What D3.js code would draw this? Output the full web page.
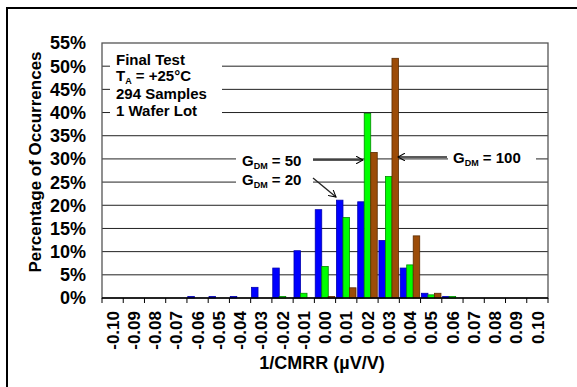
<!DOCTYPE html>
<html><head><meta charset="utf-8">
<script src="https://cdn.jsdelivr.net/npm/d3@7"></script>
<style>body{margin:0;background:#fff}svg{display:block}text{font-family:"Liberation Sans",Arial,sans-serif;font-weight:bold;fill:#000}</style>
</head><body><svg id="c" width="577" height="387"></svg>
<script>
const categories = ["-0.10","-0.09","-0.08","-0.07","-0.06","-0.05","-0.04","-0.03","-0.02","-0.01","0.00","0.01","0.02","0.03","0.04","0.05","0.06","0.07","0.08","0.09","0.10"];
const seriesNames = ["GDM20","GDM50","GDM100"];
const gdm20  = [0,0,0,0,0.34,0.34,0.34,2.3,6.46,10.2,19.05,21.1,20.75,12.4,6.46,1.02,0.34,0,0,0,0];
const gdm50  = [0,0,0,0,0,0,0,0,0.34,1.02,6.8,17.35,39.8,26.2,7.14,0.68,0.34,0,0,0,0];
const gdm100 = [0,0,0,0,0,0,0,0,0,0,0.34,2.2,31.4,51.7,13.4,1.02,0,0,0,0,0];
const yTicks = [0,5,10,15,20,25,30,35,40,45,50,55];
const colors = ["#0000ff","#00ff00","#9c4c08"];
const strokes = ["#0000b0","#008a00","#5c2c00"];

const svg = d3.select("#c");
const L=102, T=43, W=446, H=255;
const x = d3.scaleBand().domain(categories).range([L, L+W]).padding(0);
const y = d3.scaleLinear().domain([0,55]).range([T+H, T]);
const inner = x.bandwidth()*0.92;
const x1 = d3.scaleBand().domain(seriesNames).range([0, inner]).padding(0);
const off = (x.bandwidth()-inner)/2;

// outer frame
svg.append("rect").attr("x",7).attr("y",8).attr("width",620).attr("height",420).attr("fill","none").attr("stroke","#000").attr("stroke-width",2);

// gridlines
svg.append("g").selectAll("line").data(yTicks.filter(v=>v>0&&v<55)).join("line")
  .attr("x1",L).attr("x2",L+W).attr("y1",d=>y(d)).attr("y2",d=>y(d))
  .attr("stroke","#222").attr("stroke-width",1);

// label backgrounds
svg.append("rect").attr("x",110).attr("y",48).attr("width",112).attr("height",76).attr("fill","#fff");
svg.append("rect").attr("x",236).attr("y",146).attr("width",77).attr("height",46).attr("fill","#fff");
svg.append("rect").attr("x",448).attr("y",146).attr("width",88).attr("height",24).attr("fill","#fff");

// plot border
svg.append("rect").attr("x",L).attr("y",T).attr("width",W).attr("height",H).attr("fill","none").attr("stroke","#555").attr("stroke-width",1.3);

// bars
const data = [gdm20, gdm50, gdm100];
data.forEach((vals,si)=>{
  svg.append("g").selectAll("rect").data(vals.map((v,i)=>({c:categories[i],v})).filter(d=>d.v>0)).join("rect")
    .attr("x",d=>x(d.c)+off+x1(seriesNames[si]))
    .attr("width",x1.bandwidth())
    .attr("y",d=>y(d.v))
    .attr("height",d=>y(0)-y(d.v))
    .attr("fill",colors[si]).attr("stroke",strokes[si]).attr("stroke-width",0.8);
});

// axes
svg.append("line").attr("x1",L).attr("x2",L+W).attr("y1",T+H).attr("y2",T+H).attr("stroke","#000").attr("stroke-width",1.5);
svg.append("g").selectAll("line").data(d3.range(categories.length+1)).join("line")
  .attr("x1",i=>L+i*x.step()).attr("x2",i=>L+i*x.step()).attr("y1",T+H).attr("y2",T+H+5).attr("stroke","#000");
svg.append("g").selectAll("text").data(categories).join("text")
  .attr("transform",d=>`translate(${x(d)+x.bandwidth()/2},311) rotate(-90)`)
  .attr("text-anchor","end").attr("dy","0.36em").style("font-size","17px").text(d=>d);

svg.append("g").selectAll("text").data(yTicks).join("text")
  .attr("x",86).attr("y",d=>y(d)).attr("dy","0.36em").attr("text-anchor","end")
  .style("font-size","18px").text(d=>d+"%");

// axis titles
svg.append("text").attr("transform","translate(41,162) rotate(-90)").attr("text-anchor","middle")
  .style("font-size","17px").text("Percentage of Occurrences");
svg.append("text").attr("x",322).attr("y",369).attr("text-anchor","middle").style("font-size","18px").text("1/CMRR (µV/V)");

// info text
const info = svg.append("g").style("font-size","15px");
info.append("text").attr("x",116).attr("y",65).text("Final Test");
const ta = info.append("text").attr("x",116).attr("y",81);
ta.append("tspan").text("T");
ta.append("tspan").attr("dy",3).style("font-size","9px").text("A");
ta.append("tspan").attr("dy",-3).text(" = +25°C");
info.append("text").attr("x",116).attr("y",99).text("294 Samples");
info.append("text").attr("x",116).attr("y",116).text("1 Wafer Lot");

function gdm(xp, yp, val){
  const t = svg.append("text").attr("x",xp).attr("y",yp).style("font-size","15px");
  t.append("tspan").text("G");
  t.append("tspan").attr("dy",3).style("font-size","9px").text("DM");
  t.append("tspan").attr("dy",-3).text(" = "+val);
}
gdm(242,166,"50");
gdm(242,185,"20");
gdm(453,163,"100");

// arrows
const defs = svg.append("defs");
defs.append("marker").attr("id","ah").attr("viewBox","0 0 10 10").attr("refX",9).attr("refY",5)
  .attr("markerWidth",8).attr("markerHeight",8).attr("markerUnits","userSpaceOnUse").attr("orient","auto")
  .append("path").attr("d","M0,0 L9,5 L0,10").attr("fill","none").attr("stroke","#000").attr("stroke-width",1.3);
const arrows = [[313,160,363,160],[313,178,336,197],[447,157,398,157]];
svg.append("g").selectAll("line").data(arrows).join("line")
  .attr("x1",d=>d[0]).attr("y1",d=>d[1]).attr("x2",d=>d[2]).attr("y2",d=>d[3])
  .attr("stroke","#222").attr("stroke-width",1.3).attr("marker-end","url(#ah)");
</script></body></html>
